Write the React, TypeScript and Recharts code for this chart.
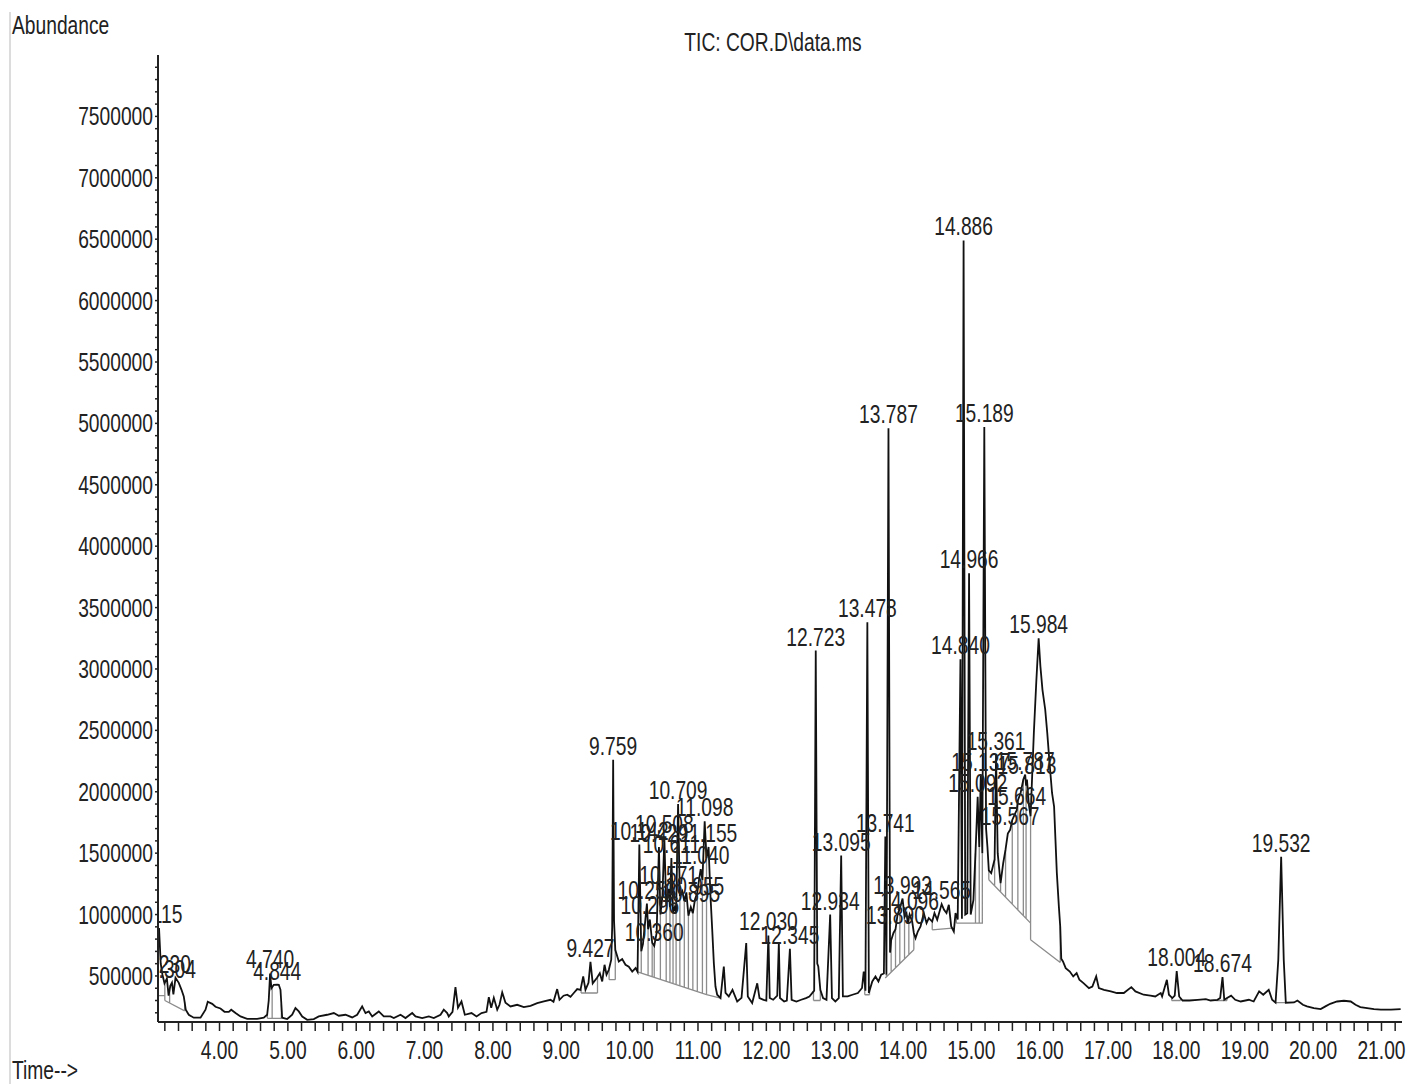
import React from "react";
import { ComposedChart, Line, Scatter, XAxis, YAxis } from "recharts";

// TIC trace: [retention time (min), abundance]
const earlyTrace: [number, number][] = [
  [3.100, 830e3], [3.115, 890e3], [3.140, 600e3], [3.165, 510e3], [3.195, 440e3], [3.230, 480e3],
  [3.255, 340e3], [3.280, 420e3], [3.304, 445e3], [3.325, 350e3], [3.356, 485e3], [3.404, 444e3],
  [3.444, 387e3], [3.477, 333e3], [3.506, 225e3], [3.550, 184e3], [3.623, 160e3], [3.722, 160e3],
  [3.795, 225e3], [3.828, 290e3], [3.893, 273e3], [3.941, 249e3], [4.014, 235e3], [4.073, 208e3],
  [4.136, 208e3], [4.171, 225e3], [4.234, 198e3], [4.307, 170e3], [4.405, 151e3], [4.551, 151e3],
  [4.648, 160e3], [4.697, 184e3], [4.720, 300e3], [4.740, 520e3], [4.760, 400e3], [4.794, 428e3],
  [4.844, 430e3], [4.867, 428e3], [4.892, 387e3], [4.917, 160e3], [4.990, 149e3], [5.063, 184e3],
  [5.111, 238e3], [5.160, 211e3], [5.210, 170e3], [5.283, 143e3], [5.379, 149e3], [5.452, 170e3],
  [5.575, 184e3], [5.672, 198e3], [5.745, 176e3], [5.843, 184e3], [5.941, 162e3], [6.014, 184e3],
  [6.087, 252e3], [6.136, 198e3], [6.184, 211e3], [6.234, 170e3], [6.330, 211e3], [6.403, 170e3],
  [6.501, 170e3], [6.550, 157e3], [6.648, 184e3], [6.721, 157e3], [6.819, 198e3], [6.867, 170e3],
  [6.965, 157e3], [7.062, 170e3], [7.135, 157e3], [7.233, 184e3], [7.281, 225e3], [7.331, 198e3],
];

const midTrace: [number, number][] = [
  [7.354, 170e3], [7.409, 208e3], [7.452, 409e3], [7.489, 241e3], [7.540, 292e3], [7.589, 184e3],
  [7.687, 198e3], [7.760, 170e3], [7.833, 198e3], [7.906, 208e3], [7.940, 328e3], [7.975, 241e3],
  [8.013, 322e3], [8.063, 225e3], [8.096, 265e3], [8.136, 365e3], [8.184, 282e3], [8.257, 252e3],
  [8.355, 265e3], [8.452, 247e3], [8.550, 257e3], [8.648, 279e3], [8.745, 292e3], [8.842, 306e3],
  [8.886, 290e3], [8.940, 393e3], [8.974, 306e3], [9.033, 339e3], [9.087, 347e3], [9.135, 330e3],
  [9.183, 361e3], [9.233, 393e3], [9.281, 387e3], [9.321, 496e3], [9.354, 387e3], [9.398, 444e3],
  [9.427, 615e3], [9.460, 440e3], [9.523, 485e3], [9.564, 523e3], [9.599, 455e3], [9.633, 591e3],
  [9.662, 510e3], [9.696, 550e3], [9.731, 632e3], [9.745, 900e3], [9.759, 2260e3], [9.772, 950e3],
  [9.790, 713e3], [9.842, 618e3], [9.891, 637e3], [9.940, 591e3], [9.988, 575e3], [10.038, 536e3],
  [10.087, 564e3],
];

const clusterTrace: [number, number][] = [
  [10.116, 534e3], [10.142, 1570e3], [10.170, 700e3], [10.195, 760e3], [10.220, 900e3], [10.253, 1090e3],
  [10.270, 880e3], [10.296, 960e3], [10.330, 770e3], [10.360, 745e3], [10.395, 850e3], [10.429, 1550e3],
  [10.450, 1000e3], [10.480, 1150e3], [10.508, 1620e3], [10.535, 1080e3], [10.571, 1210e3], [10.590, 1060e3],
  [10.611, 1460e3], [10.635, 1020e3], [10.660, 1060e3], [10.680, 1010e3], [10.709, 1900e3], [10.735, 1150e3],
  [10.770, 1190e3], [10.800, 1110e3], [10.830, 1180e3], [10.860, 990e3], [10.895, 1060e3], [10.925, 1010e3],
  [10.955, 1120e3], [10.990, 1180e3], [11.020, 1300e3], [11.040, 1370e3], [11.065, 1280e3], [11.098, 1760e3],
  [11.125, 1460e3], [11.155, 1550e3], [11.183, 1150e3], [11.208, 880e3], [11.232, 605e3], [11.256, 414e3],
  [11.281, 347e3], [11.330, 320e3],
];

const lateTrace: [number, number][] = [
  [11.378, 577e3], [11.403, 363e3], [11.451, 333e3], [11.505, 387e3], [11.574, 292e3], [11.637, 322e3],
  [11.706, 768e3], [11.729, 333e3], [11.793, 279e3], [11.867, 440e3], [11.900, 320e3], [11.960, 306e3],
  [12.000, 300e3], [12.030, 830e3], [12.050, 320e3], [12.100, 306e3], [12.160, 340e3], [12.183, 768e3],
  [12.200, 320e3], [12.260, 292e3], [12.300, 300e3], [12.345, 722e3], [12.370, 306e3], [12.440, 292e3],
  [12.510, 306e3], [12.580, 320e3], [12.630, 333e3], [12.700, 380e3], [12.723, 3150e3], [12.745, 600e3],
  [12.760, 577e3], [12.790, 387e3], [12.830, 320e3], [12.880, 306e3], [12.934, 1000e3], [12.960, 320e3],
  [13.010, 292e3], [13.060, 320e3], [13.095, 1480e3], [13.120, 333e3], [13.190, 333e3], [13.260, 347e3],
  [13.340, 361e3], [13.400, 402e3], [13.425, 536e3], [13.450, 380e3], [13.478, 3380e3], [13.500, 361e3],
  [13.550, 455e3], [13.597, 496e3], [13.640, 455e3], [13.680, 510e3], [13.720, 520e3], [13.741, 1635e3],
  [13.757, 510e3], [13.787, 4960e3], [13.810, 690e3],
];

const humpTrace: [number, number][] = [
  [13.826, 790e3], [13.860, 850e3], [13.890, 880e3], [13.920, 1000e3], [13.953, 1050e3], [13.993, 1130e3],
  [14.022, 980e3], [14.051, 1010e3], [14.070, 930e3], [14.096, 1000e3], [14.134, 943e3], [14.158, 850e3],
  [14.183, 808e3], [14.216, 862e3], [14.256, 903e3], [14.304, 1012e3], [14.344, 930e3], [14.377, 971e3],
  [14.427, 943e3], [14.460, 1012e3], [14.500, 957e3], [14.565, 1085e3], [14.600, 1039e3], [14.636, 1012e3],
  [14.670, 1079e3], [14.705, 903e3], [14.743, 862e3], [14.768, 1012e3], [14.800, 960e3], [14.840, 3080e3],
  [14.862, 965e3], [14.886, 6490e3], [14.910, 1000e3], [14.940, 1010e3], [14.966, 3780e3], [14.990, 1000e3],
  [15.030, 1120e3], [15.060, 1500e3], [15.092, 1960e3], [15.115, 1550e3], [15.137, 2130e3], [15.160, 1500e3],
  [15.189, 4970e3], [15.215, 1700e3], [15.235, 1550e3], [15.255, 1360e3], [15.290, 1337e3], [15.340, 1450e3],
  [15.361, 2300e3], [15.385, 1500e3], [15.427, 1256e3], [15.466, 1420e3], [15.500, 1530e3], [15.533, 1660e3],
  [15.567, 1690e3], [15.598, 1770e3], [15.646, 1830e3], [15.664, 1850e3], [15.680, 1930e3], [15.720, 1990e3],
  [15.760, 2100e3], [15.787, 2140e3], [15.800, 2050e3], [15.813, 2100e3], [15.840, 1900e3], [15.866, 1800e3],
  [15.914, 2480e3], [15.950, 2900e3], [15.984, 3250e3], [16.010, 3020e3], [16.040, 2830e3], [16.080, 2670e3],
  [16.110, 2480e3], [16.140, 2260e3], [16.180, 1990e3], [16.210, 1880e3], [16.230, 1610e3], [16.250, 1340e3],
  [16.280, 1065e3], [16.300, 900e3], [16.315, 640e3], [16.340, 618e3],
];

const tailTrace: [number, number][] = [
  [16.380, 564e3], [16.440, 536e3], [16.490, 496e3], [16.540, 523e3], [16.580, 469e3], [16.640, 442e3],
  [16.720, 401e3], [16.770, 414e3], [16.826, 496e3], [16.865, 401e3], [16.940, 387e3], [17.040, 374e3],
  [17.130, 361e3], [17.230, 361e3], [17.340, 409e3], [17.400, 374e3], [17.520, 347e3], [17.620, 339e3],
  [17.690, 333e3], [17.770, 361e3], [17.790, 333e3], [17.860, 469e3], [17.890, 347e3], [17.940, 320e3],
  [17.975, 340e3], [18.004, 540e3], [18.040, 333e3], [18.090, 300e3], [18.190, 300e3], [18.310, 306e3],
  [18.430, 312e3], [18.500, 300e3], [18.600, 306e3], [18.640, 320e3], [18.674, 490e3], [18.700, 306e3],
  [18.740, 320e3], [18.800, 339e3], [18.860, 306e3], [18.940, 292e3], [19.060, 306e3], [19.130, 292e3],
  [19.210, 374e3], [19.270, 347e3], [19.350, 387e3], [19.400, 306e3], [19.450, 282e3], [19.490, 630e3],
  [19.532, 1470e3], [19.570, 630e3], [19.600, 282e3], [19.720, 284e3], [19.770, 300e3], [19.850, 265e3],
  [19.910, 252e3], [20.010, 238e3], [20.110, 230e3], [20.180, 252e3], [20.250, 273e3], [20.350, 292e3],
  [20.450, 298e3], [20.550, 292e3], [20.620, 265e3], [20.690, 247e3], [20.790, 238e3], [20.890, 230e3],
  [20.990, 225e3], [21.140, 225e3], [21.280, 230e3],
];

// labelled peaks: retention time and apex abundance
const peakTimes = [
  3.115, 3.230, 3.304, 4.740, 4.844, 9.427, 9.759, 10.142, 10.253, 10.296, 10.360, 10.429, 10.508,
  10.571, 10.611, 10.709, 10.895, 10.955, 11.040, 11.098, 11.155, 12.030, 12.345, 12.723, 12.934,
  13.095, 13.478, 13.741, 13.787, 13.890, 13.993, 14.096, 14.565, 14.840, 14.886, 14.966, 15.092,
  15.137, 15.189, 15.361, 15.567, 15.664, 15.787, 15.813, 15.984, 18.004, 18.674, 19.532,
];
const peakHeights = [
  890e3, 480e3, 445e3, 520e3, 430e3, 615e3, 2260e3, 1570e3, 1090e3, 960e3, 745e3, 1550e3, 1620e3,
  1210e3, 1460e3, 1900e3, 1060e3, 1120e3, 1370e3, 1760e3, 1550e3, 830e3, 722e3, 3150e3, 1000e3,
  1480e3, 3380e3, 1635e3, 4960e3, 880e3, 1130e3, 1000e3, 1085e3, 3080e3, 6490e3, 3780e3, 1960e3,
  2130e3, 4970e3, 2300e3, 1690e3, 1850e3, 2140e3, 2100e3, 3250e3, 540e3, 490e3, 1470e3,
];

// integration baselines: [t start, t end, abundance start, abundance end]
const baselineSegs: [number, number, number, number][] = [
  [3.100, 3.200, 340e3, 340e3], [3.200, 3.490, 300e3, 215e3], [4.700, 4.905, 155e3, 155e3],
  [9.290, 9.530, 361e3, 361e3], [9.700, 9.790, 470e3, 470e3], [10.116, 11.125, 534e3, 347e3],
  [11.125, 11.330, 347e3, 320e3], [12.690, 12.790, 300e3, 300e3], [13.440, 13.510, 347e3, 347e3],
  [13.740, 14.158, 483e3, 713e3], [14.427, 14.720, 876e3, 890e3], [14.780, 15.170, 930e3, 930e3],
  [15.255, 15.866, 1283e3, 930e3], [15.866, 16.300, 794e3, 610e3], [17.930, 18.060, 300e3, 300e3],
  [18.570, 18.740, 300e3, 300e3], [19.450, 19.600, 282e3, 282e3],
];

// peak-split drop lines: [t, baseline abundance, signal abundance]
const dropLines: [number, number, number][] = [
  [3.100, 340e3, 830e3], [3.200, 300e3, 445e3], [3.270, 280e3, 390e3], [3.490, 215e3, 290e3],
  [4.700, 155e3, 190e3], [4.770, 155e3, 410e3], [4.905, 155e3, 270e3], [9.290, 361e3, 390e3],
  [9.530, 361e3, 490e3], [9.700, 470e3, 550e3], [9.790, 470e3, 713e3], [10.170, 524e3, 700e3],
  [10.270, 505e3, 880e3], [10.330, 494e3, 770e3], [10.360, 489e3, 745e3], [10.450, 472e3, 1000e3],
  [10.535, 456e3, 1080e3], [10.590, 446e3, 1060e3], [10.635, 438e3, 1020e3], [10.680, 429e3, 1010e3],
  [10.735, 419e3, 1150e3], [10.800, 407e3, 1110e3], [10.860, 396e3, 990e3], [10.925, 384e3, 1010e3],
  [10.990, 372e3, 1180e3], [11.065, 358e3, 1280e3], [11.125, 347e3, 1460e3], [12.690, 300e3, 370e3],
  [12.790, 300e3, 387e3], [13.440, 347e3, 420e3], [13.510, 347e3, 380e3], [13.757, 492e3, 510e3],
  [13.826, 530e3, 790e3], [13.890, 566e3, 880e3], [13.953, 600e3, 1050e3], [14.022, 638e3, 980e3],
  [14.085, 673e3, 970e3], [14.158, 713e3, 850e3], [14.427, 876e3, 943e3], [14.780, 930e3, 990e3],
  [15.060, 930e3, 1500e3], [15.115, 930e3, 1550e3], [15.160, 930e3, 1500e3], [15.255, 1283e3, 1360e3],
  [15.340, 1234e3, 1450e3], [15.427, 1184e3, 1256e3], [15.500, 1142e3, 1530e3], [15.598, 1085e3, 1770e3],
  [15.680, 1038e3, 1930e3], [15.760, 992e3, 2100e3], [15.800, 969e3, 2050e3], [15.866, 794e3, 1800e3],
  [16.300, 610e3, 900e3], [17.930, 300e3, 325e3], [18.060, 300e3, 320e3], [18.740, 300e3, 320e3],
];

const FONT = '"Liberation Sans", Arial, sans-serif';
const SQUEEZE = 0.74;
const INK = "#222";

const xTicks = Array.from({ length: 91 }, (_, i) => Math.round((3.2 + i * 0.2) * 10) / 10);
const yTicks = Array.from({ length: 78 }, (_, i) => 200000 + i * 100000);

const traceData = [...earlyTrace, ...midTrace, ...clusterTrace, ...lateTrace, ...humpTrace, ...tailTrace].map(
  ([t, v]) => ({ t, v })
);

const integData = [
  ...baselineSegs.flatMap(([t0, t1, v0, v1]) => [
    { t: t0, v: v0 },
    { t: t1, v: v1 },
    { t: t1, v: null },
  ]),
  ...dropLines.flatMap(([t, lo, hi]) => [
    { t, v: lo },
    { t, v: hi },
    { t, v: null },
  ]),
];

const peakData = peakTimes.map((t, i) => ({ t, v: peakHeights[i], label: t.toFixed(3) }));

function Squeezed({ x, y, anchor, children }: any) {
  return (
    <text
      transform={`translate(${x},${y}) scale(${SQUEEZE},1)`}
      textAnchor={anchor}
      fontFamily={FONT}
      fontSize={26}
      fill={INK}
    >
      {children}
    </text>
  );
}

function TimeTick({ x, y, payload }: any) {
  const v = payload.value;
  if (Math.abs(v - Math.round(v)) > 1e-6) return null;
  return (
    <Squeezed x={x} y={y + 28} anchor="middle">
      {v.toFixed(2)}
    </Squeezed>
  );
}

function AbundanceTick({ x, y, payload }: any) {
  if (payload.value % 500000 !== 0) return null;
  return (
    <Squeezed x={x} y={y + 9} anchor="end">
      {payload.value}
    </Squeezed>
  );
}

function PeakLabel(props: any) {
  const { cx, cy, payload } = props;
  if (cx == null || cy == null) return null;
  return (
    <Squeezed x={cx} y={cy - 5} anchor="middle">
      {payload.label}
    </Squeezed>
  );
}

export default function App() {
  return (
    <div style={{ position: "absolute", left: 0, top: 0, width: 1406, height: 1084, background: "#fff" }}>
      <ComposedChart width={1406} height={1084} margin={{ top: 55, right: 4, bottom: 0, left: 0 }}>
        <XAxis
          dataKey="t"
          type="number"
          domain={[3.1, 21.3]}
          allowDataOverflow
          ticks={xTicks}
          interval={0}
          height={62}
          tickSize={9}
          tickMargin={0}
          tick={<TimeTick />}
          tickLine={{ stroke: INK, strokeWidth: 1.5 }}
          axisLine={{ stroke: INK, strokeWidth: 2 }}
        />
        <YAxis
          dataKey="v"
          type="number"
          domain={[125000, 8000000]}
          allowDataOverflow
          ticks={yTicks}
          interval={0}
          width={158}
          tickSize={3}
          tickMargin={2}
          tick={<AbundanceTick />}
          tickLine={{ stroke: INK, strokeWidth: 1.5 }}
          axisLine={{ stroke: INK, strokeWidth: 2 }}
        />
        <Line
          data={integData}
          dataKey="v"
          type="linear"
          stroke="#8c8c8c"
          strokeWidth={1.3}
          dot={false}
          activeDot={false}
          connectNulls={false}
          isAnimationActive={false}
        />
        <Line
          data={traceData}
          dataKey="v"
          type="linear"
          stroke="#111"
          strokeWidth={1.8}
          dot={false}
          activeDot={false}
          isAnimationActive={false}
        />
        <Scatter data={peakData} dataKey="v" shape={PeakLabel} isAnimationActive={false} />
      </ComposedChart>
      <svg
        width={1406}
        height={1084}
        style={{ position: "absolute", left: 0, top: 0, pointerEvents: "none" }}
      >
        <line x1={10} y1={12} x2={10} y2={1084} stroke="#dcdcdc" strokeWidth={2} />
        <Squeezed x={12} y={34} anchor="start">
          Abundance
        </Squeezed>
        <Squeezed x={773} y={51} anchor="middle">
          {"TIC: COR.D\\data.ms"}
        </Squeezed>
        <Squeezed x={12} y={1079} anchor="start">
          {"Time-->"}
        </Squeezed>
      </svg>
    </div>
  );
}
